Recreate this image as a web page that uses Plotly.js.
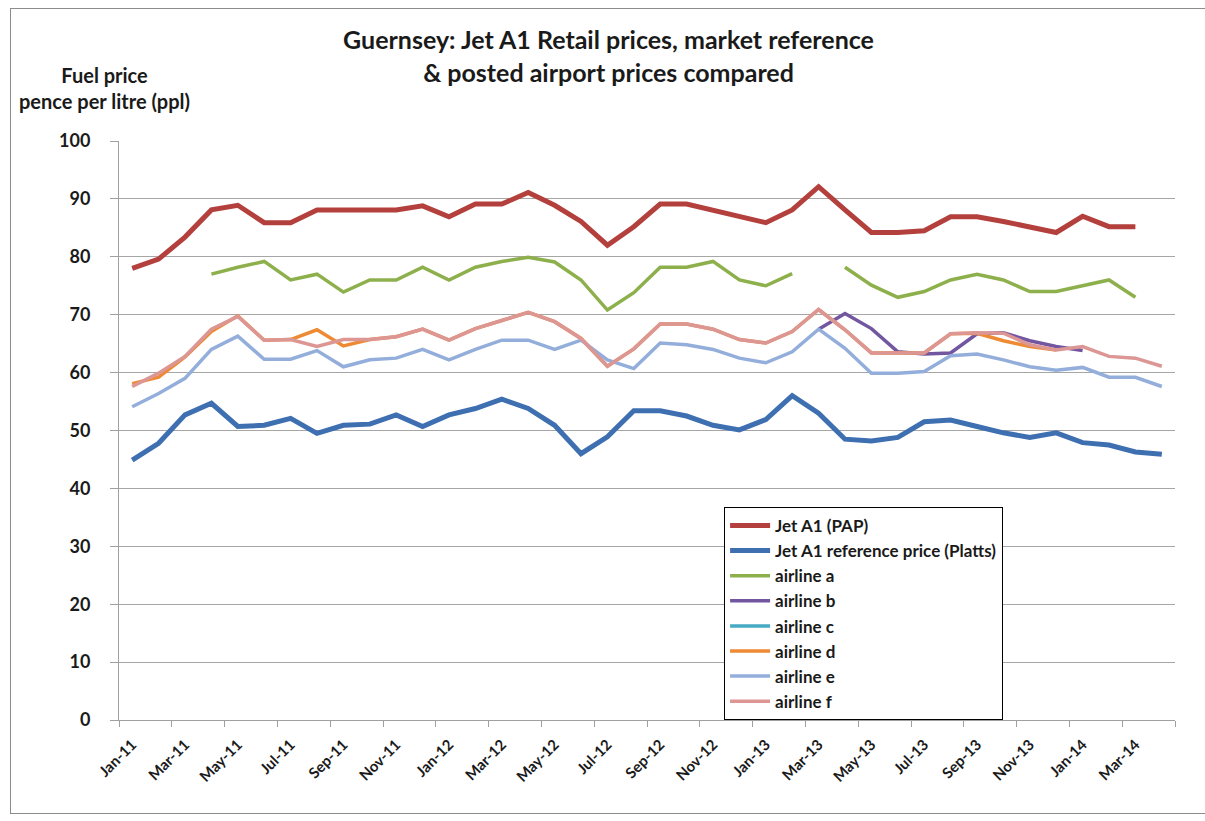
<!DOCTYPE html>
<html>
<head>
<meta charset="utf-8">
<script src="https://cdn.plot.ly/plotly-3.0.1.min.js"></script>
<style>
  html, body { margin:0; padding:0; background:#fff; }
  #chart { position:absolute; left:0; top:0; width:1205px; height:821px; }
  #frame { position:absolute; left:10px; top:8px; width:1200px; height:804px; border:1px solid #8c8c8c; pointer-events:none; }
</style>
</head>
<body>
<div id="chart"></div>
<div id="frame"></div>
<script>
const months = ['Jan-11','Feb-11','Mar-11','Apr-11','May-11','Jun-11','Jul-11','Aug-11','Sep-11','Oct-11','Nov-11','Dec-11',
  'Jan-12','Feb-12','Mar-12','Apr-12','May-12','Jun-12','Jul-12','Aug-12','Sep-12','Oct-12','Nov-12','Dec-12',
  'Jan-13','Feb-13','Mar-13','Apr-13','May-13','Jun-13','Jul-13','Aug-13','Sep-13','Oct-13','Nov-13','Dec-13',
  'Jan-14','Feb-14','Mar-14','Apr-14'];

const jetA1PAP = [78.0,79.6,83.4,88.1,88.9,85.9,85.9,88.1,88.1,88.1,88.1,88.8,
  86.9,89.1,89.1,91.1,88.9,86.1,82.0,85.2,89.1,89.1,88.0,87.0,
  85.9,88.1,92.1,88.1,84.2,84.2,84.5,86.9,86.9,86.1,85.2,84.2,
  87.0,85.2,85.2,null];
const platts = [44.9,47.8,52.7,54.7,50.7,50.9,52.1,49.5,50.9,51.1,52.7,50.7,
  52.7,53.8,55.4,53.8,50.9,46.0,48.9,53.4,53.4,52.5,50.9,50.1,
  51.9,56.0,53.0,48.5,48.2,48.8,51.5,51.8,50.7,49.6,48.8,49.6,
  47.9,47.5,46.3,45.9];
const airlineA = [null,null,null,77.0,78.2,79.2,76.0,77.0,73.9,76.0,76.0,78.2,
  76.0,78.2,79.2,79.9,79.1,76.0,70.8,73.8,78.2,78.2,79.2,76.0,
  75.0,77.1,null,78.2,75.1,73.0,74.0,76.0,77.0,76.0,74.0,74.0,
  75.0,76.0,73.0,null];
const airlineB = [null,null,null,null,null,null,null,null,null,null,null,null,
  null,null,null,null,null,null,null,null,null,null,null,null,
  null,null,67.5,70.2,67.6,63.6,63.2,63.4,66.7,66.9,65.5,64.5,
  63.8,null,null,null];
const airlineC = [null,null,null,null,null,null,null,null,null,null,null,null,
  null,null,null,null,null,null,null,null,null,null,null,null,
  null,null,null,null,null,null,null,null,null,null,null,null,
  null,null,null,null];
const airlineD = [58.1,59.2,62.7,67.1,69.8,65.6,65.7,67.4,64.6,65.7,66.2,67.5,
  65.6,67.6,69.0,70.4,68.8,65.9,61.1,64.1,68.4,68.4,67.5,65.7,
  65.1,67.1,70.9,67.4,63.4,63.4,63.4,66.7,66.8,65.5,64.5,63.9,
  null,null,null,null];
const airlineE = [54.1,56.4,59.0,64.0,66.3,62.3,62.3,63.8,61.0,62.2,62.5,64.0,
  62.2,64.0,65.6,65.6,64.0,65.6,62.2,60.7,65.1,64.8,64.0,62.5,
  61.7,63.6,67.5,64.2,59.9,59.9,60.2,62.9,63.2,62.2,61.0,60.4,
  60.9,59.2,59.2,57.6];
const airlineF = [57.6,59.9,62.8,67.5,69.7,65.6,65.7,64.5,65.7,65.7,66.2,67.5,
  65.6,67.6,69.0,70.4,68.8,65.9,61.1,64.1,68.4,68.4,67.5,65.7,
  65.1,67.1,70.9,67.4,63.4,63.4,63.4,66.7,66.9,66.8,64.8,63.9,
  64.5,62.8,62.5,61.1];

const idx = months.map((m, i) => i);
const tickIdx = idx.filter(i => i % 2 === 0);
const tickText = tickIdx.map(i => months[i]);

function tr(name, y, color, width) {
  return { type:'scatter', mode:'lines', name:name, x:idx, y:y,
    line:{color:color, width:width}, connectgaps:false, hoverinfo:'skip' };
}

const data = [
  tr('Jet A1 (PAP)', jetA1PAP, '#B3403C', 5),
  tr('Jet A1 reference price (Platts)', platts, '#3E6FB0', 5),
  tr('airline a', airlineA, '#8DB04C', 3.5),
  tr('airline b', airlineB, '#7356A0', 3.5),
  tr('airline c', airlineC, '#46AAC5', 3.5),
  tr('airline d', airlineD, '#EE8A34', 3.5),
  tr('airline e', airlineE, '#93AEDB', 3.5),
  tr('airline f', airlineF, '#DC9694', 3.5)
];

const FONT = 'Lato, "Open Sans", sans-serif';

const layout = {
  width:1205, height:821,
  margin:{l:119, r:30, t:141, b:101},
  paper_bgcolor:'#ffffff', plot_bgcolor:'#ffffff',
  font:{family:FONT, color:'#1a1a1a'},
  showlegend:true,
  title:{text:'Guernsey: Jet A1 Retail prices, market reference<br>& posted airport prices compared',
    font:{family:FONT, size:25, color:'#1a1a1a', weight:'bold'}, x:0.505, xanchor:'center', y:0.94, yanchor:'top'},
  xaxis:{
    range:[-0.5, 39.5], tickmode:'array', tickvals:tickIdx, ticktext:tickText,
    tickangle:-45, ticks:'', showgrid:false, zeroline:false, ticklabelstandoff:9,
    showline:true, linecolor:'#a0a0a0', linewidth:1,
    tickfont:{family:FONT, size:15, color:'#1a1a1a', weight:'bold'},
    minor:{tickmode:'linear', tick0:-0.5, dtick:2, ticks:'outside', ticklen:6, tickcolor:'#a0a0a0', showgrid:false}
  },
  yaxis:{
    range:[0, 100], dtick:10, ticks:'outside', ticklen:8, tickcolor:'#a0a0a0',
    showgrid:true, gridcolor:'#a6a6a6', gridwidth:1, zeroline:false, ticklabelstandoff:16,
    showline:true, linecolor:'#a0a0a0', linewidth:1,
    tickfont:{family:FONT, size:18, color:'#1a1a1a', weight:'bold'}
  },
  legend:{
    x:0.573, y:0.368, xanchor:'left', yanchor:'top',
    bgcolor:'#ffffff', bordercolor:'#000000', borderwidth:1,
    font:{family:FONT, size:17, color:'#1a1a1a', weight:'bold'},
    traceorder:'normal', itemwidth:40
  },
  annotations:[
    {xref:'paper', yref:'paper', x:-0.014, y:1.0, xanchor:'center', yanchor:'bottom', showarrow:false,
     text:'Fuel price<br>pence per litre (ppl)', align:'center', yshift:26,
     font:{family:FONT, size:20, color:'#1a1a1a', weight:'bold'}}
  ]
};

Plotly.newPlot('chart', data, layout, {displayModeBar:false, staticPlot:true});
</script>
</body>
</html>
